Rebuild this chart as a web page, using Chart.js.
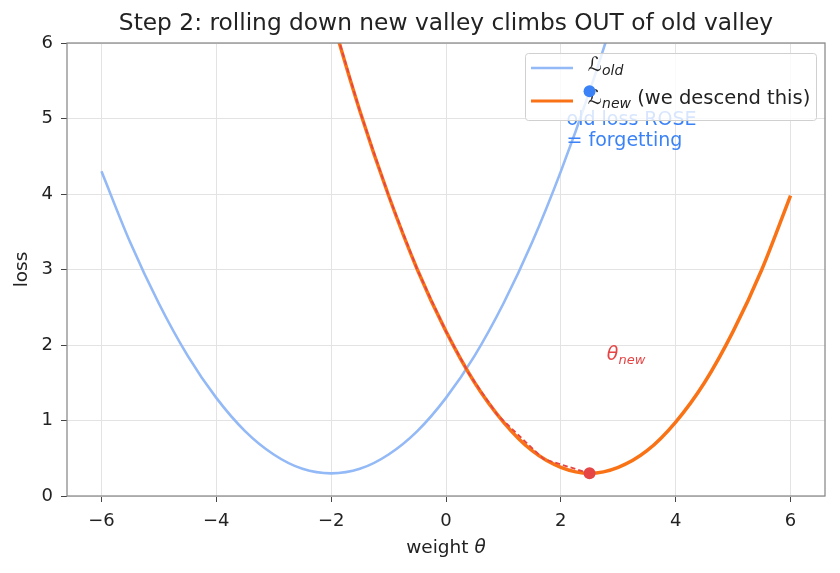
<!DOCTYPE html>
<html>
<head>
<meta charset="utf-8">
<script src="https://cdn.jsdelivr.net/npm/chart.js@4.4.1/dist/chart.umd.min.js"></script>
<style>
  body { margin: 0; background: #fff; }
  #wrap { width: 840px; height: 573px; }
</style>
</head>
<body>
<div id="wrap"><canvas id="grafico" width="840" height="573"></canvas></div>
<script>
// datos
const theta = [-6, -5.5, -5, -4.5, -4, -3.5, -3, -2.5, -2, -1.5, -1, -0.5, 0, 0.5, 1, 1.5, 2, 2.5, 3, 3.5, 4, 4.5, 5, 5.5, 6];
const lossOld = [4.3, 3.36, 2.55, 1.86, 1.3, 0.86, 0.55, 0.36, 0.3, 0.36, 0.55, 0.86, 1.3, 1.86, 2.55, 3.36, 4.3, 5.36, 6.55, 7.86, 9.3, 10.86, 12.55, 14.36, 16.3];
const lossNew = [21.98, 19.5, 17.18, 15.0, 12.98, 11.1, 9.38, 7.8, 6.38, 5.1, 3.98, 3.0, 2.18, 1.5, 0.98, 0.6, 0.38, 0.3, 0.38, 0.6, 0.98, 1.5, 2.18, 3.0, 3.98];
const descentTheta = [-2.0, -1.5, -1.0, -0.5, 0.0, 0.4, 0.9, 1.7, 2.5];
const descentLoss = [6.38, 5.1, 3.98, 3.0, 2.18, 1.62, 1.07, 0.49, 0.3];
const markerTheta = [2.5, 2.5];
const markerLoss = [5.36, 0.3];
const xTicks = [-6, -4, -2, 0, 2, 4, 6];
const yTicks = [0, 1, 2, 3, 4, 5, 6];

const azul = '#3b82f6';
const azulClaro = '#93b9f6';
const naranja = '#f97316';
const rojo = '#e54545';
const FONT = '"DejaVu Sans", sans-serif';

const pts = (xs, ys) => xs.map((x, i) => ({ x: x, y: ys[i] }));
const minus = v => (v < 0 ? '\u2212' + Math.abs(v) : String(v));

// texto con subíndice cursiva, p.ej. ℒ_old
function drawSub(ctx, x, y, base, sub, size, color, italicBase) {
    ctx.fillStyle = color;
    ctx.textBaseline = 'middle';
    ctx.textAlign = 'left';
    ctx.font = (italicBase ? 'italic ' : '') + size + 'px ' + FONT;
    ctx.fillText(base, x, y);
    const w = ctx.measureText(base).width;
    ctx.font = 'italic ' + Math.round(size * 0.7) + 'px ' + FONT;
    ctx.fillText(sub, x + w, y + size * 0.28);
    return x + w + ctx.measureText(sub).width;
}

const decoraciones = {
    id: 'decoraciones',
    beforeDatasetDraw(chart, args) {
        if (args.index !== 0) return;
        const ctx = chart.ctx;
        const xs = chart.scales.x, ys = chart.scales.y;
        ctx.save();
        // anotaciones
        ctx.fillStyle = azul;
        ctx.font = '19px ' + FONT;
        ctx.textBaseline = 'middle';
        ctx.textAlign = 'left';
        ctx.fillText('old loss ROSE', xs.getPixelForValue(2.1), ys.getPixelForValue(4.98));
        ctx.fillText('= forgetting', xs.getPixelForValue(2.1), ys.getPixelForValue(4.7));
        drawSub(ctx, xs.getPixelForValue(2.8), ys.getPixelForValue(1.87), '\u03B8', 'new', 19, rojo, true);

        // leyenda
        const lx = 525, ly = 53, lw = 291, lh = 67;
        ctx.fillStyle = 'rgba(255,255,255,0.8)';
        ctx.strokeStyle = '#d0d0d0';
        ctx.lineWidth = 1;
        ctx.beginPath();
        ctx.roundRect(lx + 0.5, ly + 0.5, lw, lh, 3);
        ctx.fill();
        ctx.stroke();
        ctx.lineWidth = 2.5;
        ctx.strokeStyle = azulClaro;
        ctx.beginPath(); ctx.moveTo(531, 68); ctx.lineTo(573, 68); ctx.stroke();
        ctx.lineWidth = 3;
        ctx.strokeStyle = naranja;
        ctx.beginPath(); ctx.moveTo(531, 101); ctx.lineTo(573, 101); ctx.stroke();
        drawSub(ctx, 588, 66, '\u2112', 'old', 19.5, '#222', false);
        const e = drawSub(ctx, 588, 99, '\u2112', 'new', 19.5, '#222', false);
        ctx.fillStyle = '#222';
        ctx.font = '19.5px ' + FONT;
        ctx.fillText(' (we descend this)', e, 99);
        ctx.restore();
    },
    afterDraw(chart) {
        const ctx = chart.ctx;
        const a = chart.chartArea;
        ctx.save();
        ctx.strokeStyle = '#888';
        ctx.lineWidth = 1.25;
        ctx.strokeRect(a.left, a.top, a.right - a.left, a.bottom - a.top);
        ctx.fillStyle = '#222';
        ctx.textAlign = 'center';
        ctx.textBaseline = 'middle';
        ctx.font = '23.3px ' + FONT;
        ctx.fillText('Step 2: rolling down new valley climbs OUT of old valley', (a.left + a.right) / 2, 24);
        ctx.font = '18.5px ' + FONT;
        const lbl = 'weight ';
        const wl = ctx.measureText(lbl).width;
        ctx.font = 'italic 18.5px ' + FONT;
        const wt = ctx.measureText('\u03B8').width;
        ctx.textAlign = 'left';
        const x0 = (a.left + a.right) / 2 - (wl + wt) / 2;
        ctx.font = '18.5px ' + FONT;
        ctx.fillText(lbl, x0, 548);
        ctx.font = 'italic 18.5px ' + FONT;
        ctx.fillText('\u03B8', x0 + wl, 548);
        ctx.textAlign = 'center';
        ctx.font = '18.5px ' + FONT;
        ctx.translate(22, (a.top + a.bottom) / 2);
        ctx.rotate(-Math.PI / 2);
        ctx.fillText('loss', 0, 0);
        ctx.restore();
    }
};

const ctx = document.getElementById('grafico').getContext('2d');
const chart = new Chart(ctx, {
    type: 'line',
    data: {
        datasets: [
            {
                type: 'scatter',
                data: pts(markerTheta, markerLoss),
                pointRadius: 6,
                pointBackgroundColor: [azul, rojo],
                pointBorderWidth: 0
            },
            {
                data: pts(descentTheta, descentLoss),
                borderColor: rojo,
                borderWidth: 1.8,
                borderDash: [5, 3],
                pointRadius: 0,
                tension: 0
            },
            {
                data: pts(theta, lossNew),
                borderColor: naranja,
                borderWidth: 3.5,
                pointRadius: 0,
                cubicInterpolationMode: 'monotone'
            },
            {
                data: pts(theta, lossOld),
                borderColor: azulClaro,
                borderWidth: 2.6,
                pointRadius: 0,
                cubicInterpolationMode: 'monotone'
            }
        ]
    },
    options: {
        responsive: false,
        animation: false,
        layout: { padding: { top: 43, right: 15, left: 0, bottom: 0 } },
        plugins: { legend: { display: false }, tooltip: { enabled: false } },
        scales: {
            x: {
                type: 'linear',
                min: -6.6,
                max: 6.6,
                afterBuildTicks: s => { s.ticks = xTicks.map(v => ({ value: v })); },
                afterFit: s => { s.height = 77; },
                grid: { color: '#e3e3e3', tickColor: '#444', tickLength: 6 },
                border: { display: false },
                ticks: { color: '#222', font: { family: FONT, size: 18 }, padding: 9, maxRotation: 0, callback: v => minus(v) }
            },
            y: {
                min: 0,
                max: 6,
                afterBuildTicks: s => { s.ticks = yTicks.map(v => ({ value: v })); },
                afterFit: s => { s.width = 67; },
                grid: { color: '#e3e3e3', tickColor: '#444', tickLength: 6 },
                border: { display: false },
                ticks: { color: '#222', font: { family: FONT, size: 18 }, padding: 8, callback: v => minus(v) }
            }
        }
    },
    plugins: [decoraciones]
});
</script>
</body>
</html>
